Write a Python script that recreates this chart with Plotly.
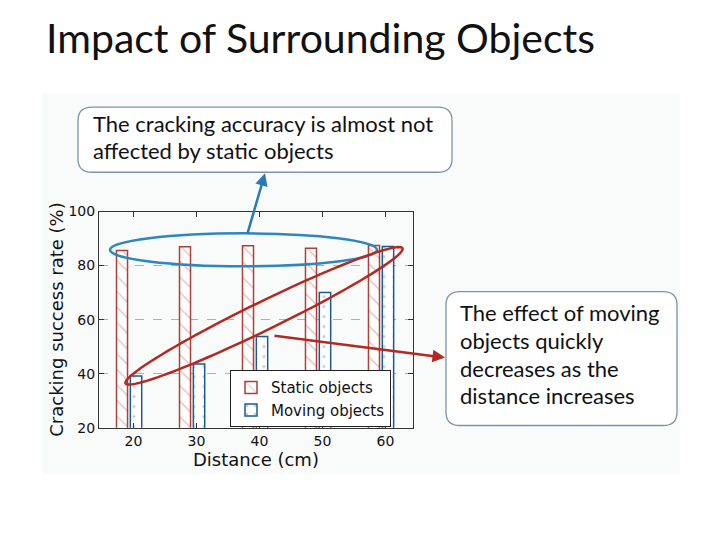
import numpy as np
import plotly.graph_objects as go

# ---- data ----
distances = [20, 30, 40, 50, 60]
static_rate = [85.6, 87.0, 87.3, 86.4, 87.4]
moving_rate = [39.1, 43.6, 53.8, 70.0, 87.1]
y_ticks = [20, 40, 60, 80, 100]
x_ticks = [20, 30, 40, 50, 60]

W, H = 720, 540
OFF = 8  # page body margin offset
def px(x):
    return (x - OFF) / W
def py(y):
    return 1 - (y - OFF) / H

fig = go.Figure()
fig.add_trace(go.Bar(
    x=distances, y=static_rate, name="Static objects",
    width=1.75, offset=-2.7, base=0,
    marker=dict(color="white", line=dict(color="#a9423a", width=1.5),
                pattern=dict(shape="\\", fgcolor="#c8776c", size=11, solidity=0.12)),
))
fig.add_trace(go.Bar(
    x=distances, y=moving_rate, name="Moving objects",
    width=1.8, offset=-0.5, base=0,
    marker=dict(color="white", line=dict(color="#1f5a8f", width=1.5),
                pattern=dict(shape=".", fgcolor="#6a9fd0", size=10, solidity=0.08)),
))

fig.update_layout(
    width=W, height=H,
    margin=dict(l=0, r=0, t=0, b=0),
    paper_bgcolor="white",
    plot_bgcolor="white",
    barmode="overlay",
    showlegend=True,
    legend=dict(x=px(230), y=py(373), xanchor="left", yanchor="top",
                bgcolor="white", bordercolor="#222", borderwidth=1,
                font=dict(family="DejaVu Sans", size=15, color="#111"),
                tracegroupgap=0),
    xaxis=dict(domain=[px(99), px(413)], range=[14.52, 64.37],
               tickvals=x_ticks, ticktext=[str(v) for v in x_ticks],
               ticks="inside", ticklen=5, tickcolor="#333", mirror="ticks",
               showline=True, linecolor="#333", linewidth=1,
               showgrid=False, zeroline=False,
               tickfont=dict(family="DejaVu Sans", size=14, color="#111")),
    yaxis=dict(domain=[py(432.3), py(209.5)], range=[20, 100],
               tickvals=y_ticks, ticktext=[str(v) for v in y_ticks],
               ticks="inside", ticklen=5, tickcolor="#333", mirror="ticks",
               showline=True, linecolor="#333", linewidth=1,
               showgrid=True, gridcolor="#b0b0b0", griddash="dash", gridwidth=1,
               zeroline=False,
               tickfont=dict(family="DejaVu Sans", size=14, color="#111")),
)

shapes = []
# faint image background
shapes.append(dict(type="rect", xref="paper", yref="paper", layer="below",
                   x0=px(42), x1=px(680), y0=py(480), y1=py(88),
                   fillcolor="#f9fafa", line=dict(width=0)))

def rounded_rect(x0, y0, x1, y1, r):
    pts = [
        f"M {px(x0 + r)} {py(y0)}",
        f"L {px(x1 - r)} {py(y0)}",
        f"Q {px(x1)} {py(y0)} {px(x1)} {py(y0 + r)}",
        f"L {px(x1)} {py(y1 - r)}",
        f"Q {px(x1)} {py(y1)} {px(x1 - r)} {py(y1)}",
        f"L {px(x0 + r)} {py(y1)}",
        f"Q {px(x0)} {py(y1)} {px(x0)} {py(y1 - r)}",
        f"L {px(x0)} {py(y0 + r)}",
        f"Q {px(x0)} {py(y0)} {px(x0 + r)} {py(y0)}",
        "Z",
    ]
    return " ".join(pts)

for (x0, y0, x1, y1) in [(78, 102, 452, 169), (446, 292, 677, 430)]:
    shapes.append(dict(type="path", xref="paper", yref="paper",
                       path=rounded_rect(x0, y0, x1, y1, 14),
                       fillcolor="white", line=dict(color="#7d93a8", width=1.3)))

# blue ellipse
shapes.append(dict(type="circle", xref="paper", yref="paper",
                   x0=px(110), x1=px(377), y0=py(266), y1=py(232),
                   line=dict(color="#2e86c1", width=2.5)))

# red rotated ellipse
cx, cy, a, b, th = 264, 317, 155, 14.5, np.deg2rad(26.7)
t = np.linspace(0, 2 * np.pi, 97)
ex = cx + a * np.cos(t) * np.cos(th) - b * np.sin(t) * np.sin(th)
ey = cy - a * np.cos(t) * np.sin(th) - b * np.sin(t) * np.cos(th)
path = "M " + " L ".join(f"{px(x)} {py(y)}" for x, y in zip(ex, ey)) + " Z"
shapes.append(dict(type="path", xref="paper", yref="paper", path=path,
                   line=dict(color="#b22a22", width=2.5)))
fig.update_layout(shapes=shapes)

ann = []
ann.append(dict(x=px(44), y=py(30), xref="paper", yref="paper",
                xanchor="left", yanchor="middle", showarrow=False,
                text="Impact of Surrounding Objects",
                font=dict(family="Lato", size=41, color="#111")))
box_font = dict(family="Lato", size=22, color="#111")
for txt, yy in [("The cracking accuracy is almost not", 119),
                ("affected by static objects", 147)]:
    ann.append(dict(x=px(91), y=py(yy), xref="paper", yref="paper",
                    xanchor="left", yanchor="middle", showarrow=False,
                    text=txt, font=box_font))
for txt, yy in [("The effect of moving", 314), ("objects quickly", 342),
                ("decreases as the", 371), ("distance increases", 399)]:
    ann.append(dict(x=px(458), y=py(yy), xref="paper", yref="paper",
                    xanchor="left", yanchor="middle", showarrow=False,
                    text=txt, font=box_font))
# axis titles
ann.append(dict(x=px(256), y=py(465), xref="paper", yref="paper",
                xanchor="center", yanchor="middle", showarrow=False,
                text="Distance (cm)",
                font=dict(family="DejaVu Sans", size=18, color="#111")))
ann.append(dict(x=px(57), y=py(321), xref="paper", yref="paper",
                xanchor="center", yanchor="middle", showarrow=False,
                textangle=-90, text="Cracking success rate (%)",
                font=dict(family="DejaVu Sans", size=18, color="#111")))
# arrows
ann.append(dict(x=px(265), y=py(170), xref="paper", yref="paper",
                ax=247 - 265, ay=232 - 170, text="", showarrow=True,
                arrowhead=2, arrowsize=1, arrowwidth=2.5, arrowcolor="#2a7ab8"))
ann.append(dict(x=px(445), y=py(360), xref="paper", yref="paper",
                ax=273 - 445, ay=338 - 360, text="", showarrow=True,
                arrowhead=2, arrowsize=1, arrowwidth=2.5, arrowcolor="#b22a22"))
fig.update_layout(annotations=ann)

fig.write_html("out.html")
